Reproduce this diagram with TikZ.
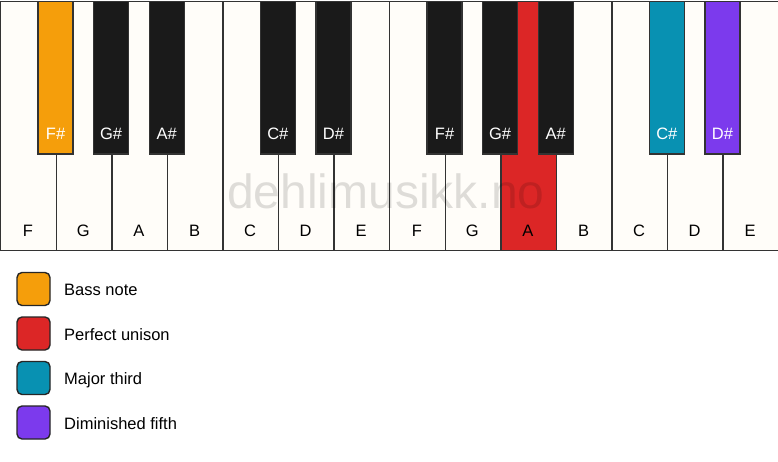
\documentclass[tikz,border=0pt]{standalone}
\usepackage{fontspec}
\setmainfont{Liberation Sans}
\definecolor{whitekey}{HTML}{FFFDF9}
\definecolor{blackkey}{HTML}{1A1A1A}
\definecolor{keyline}{HTML}{333333}
\definecolor{bass}{HTML}{F59E0B}
\definecolor{unison}{HTML}{DC2626}
\definecolor{third}{HTML}{0891B2}
\definecolor{fifth}{HTML}{7C3AED}
\begin{document}
\begin{tikzpicture}[x=1pt,y=-1pt,
  wkey/.style={draw=keyline, line width=1.4pt, fill=whitekey, minimum width=55.57pt, minimum height=249pt, inner sep=0pt, anchor=north west},
  bkey/.style={draw=keyline, line width=1.4pt, fill=blackkey, minimum width=35pt, minimum height=152.5pt, inner sep=0pt, anchor=north},
  keytext/.style={font=\fontsize{16.5}{16.5}\selectfont, inner sep=0pt, anchor=base},
  legbox/.style={draw=black!85, line width=1.4pt, rounded corners=5pt, minimum width=33pt, minimum height=33pt, inner sep=0pt},
  legtext/.style={font=\fontsize{16.5}{16.5}\selectfont, inner sep=0pt, anchor=base west}]
\fill[white] (0,0) rectangle (778,461);
\useasboundingbox (0,0) rectangle (778,461);
% white keys
\foreach \n [count=\i from 0] in {F,G,A,B,C,D,E,F,G,A,B,C,D,E}{
  \ifnum\i=9
    \node[wkey, fill=unison] (w\i) at ({55.57*\i},0.7) {};
  \else
    \node[wkey] (w\i) at ({55.57*\i},0.7) {};
  \fi
  \node[keytext] (wl\i) at ({55.57*\i+27.8},236) {\n};
}
% watermark
\node[font=\fontsize{48}{48}\selectfont, text=black, opacity=0.13, inner sep=0pt, anchor=base] (wm) at (386,208) {dehlimusikk.no};
% black keys
\foreach \b/\n/\c in {1/F\#/bass, 2/G\#/blackkey, 3/A\#/blackkey, 5/C\#/blackkey, 6/D\#/blackkey, 8/F\#/blackkey, 9/G\#/blackkey, 10/A\#/blackkey, 12/C\#/third, 13/D\#/fifth}{
  \node[bkey, fill=\c] (b\b) at ({55.57*\b},0.7) {};
  \node[keytext, text=white] (bl\b) at ({55.57*\b},139) {\n};
}
% legend
\node[legbox, fill=bass]   (l1) at (33.5,289)   {};
\node[legbox, fill=unison] (l2) at (33.5,333.5) {};
\node[legbox, fill=third]  (l3) at (33.5,378)   {};
\node[legbox, fill=fifth]  (l4) at (33.5,422.5) {};
\node[legtext] (t1) at (64,295.5) {Bass note};
\node[legtext] (t2) at (64,340)   {Perfect unison};
\node[legtext] (t3) at (64,384.5) {Major third};
\node[legtext] (t4) at (64,429)   {Diminished fifth};
\end{tikzpicture}
\end{document}
